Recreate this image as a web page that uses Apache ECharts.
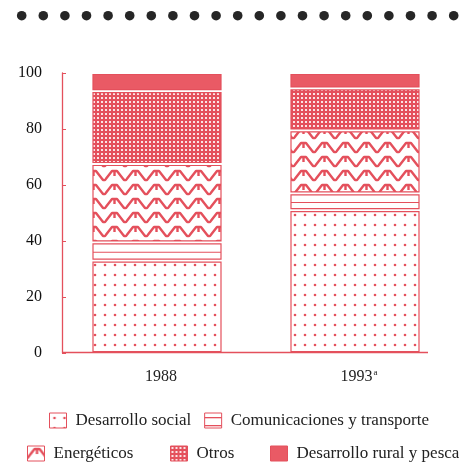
<!DOCTYPE html>
<html>
<head>
<meta charset="utf-8">
<script src="https://cdn.jsdelivr.net/npm/echarts@6/dist/echarts.min.js"></script>
<style>html,body{margin:0;padding:0;background:#fff;}#c{width:459px;height:466px;}</style>
</head>
<body>
<div id="c"></div>
<script>
// ---- data ----
const categories = ['1988', '1993'];
const seriesNames = ['Desarrollo social', 'Comunicaciones y transporte', 'Energéticos', 'Otros', 'Desarrollo rural y pesca'];
const desarrolloSocial = [33, 51];
const comunicaciones = [6.5, 6];
const energeticos = [28, 22.5];
const otros = [26, 15];
const desarrolloRural = [6.5, 5.5];
const yTicks = [0, 20, 40, 60, 80, 100];

// ---- styles ----
const RED = '#e4505c';
const FILL_RED = '#e95a65';
const SERIF = '"Liberation Serif", "DejaVu Serif", serif';

function makeCanvas(w, h, draw) {
  const c = document.createElement('canvas');
  c.width = w; c.height = h;
  const ctx = c.getContext('2d');
  ctx.fillStyle = '#fff';
  ctx.fillRect(0, 0, w, h);
  draw(ctx);
  return { image: c, repeat: 'repeat' };
}
const patDots = makeCanvas(10, 10, ctx => {
  ctx.fillStyle = RED;
  ctx.beginPath(); ctx.arc(5, 5, 1.3, 0, Math.PI * 2); ctx.fill();
});
const patStripes = makeCanvas(8, 8, ctx => {
  ctx.fillStyle = RED; ctx.fillRect(0, 4, 8, 1.3);
});
const patWave = makeCanvas(21, 14, ctx => {
  ctx.strokeStyle = RED; ctx.lineWidth = 2.4; ctx.lineJoin = 'round';
  ctx.beginPath();
  ctx.moveTo(-3, 12); ctx.lineTo(0, 12); ctx.lineTo(7, 3); ctx.lineTo(12, 3);
  ctx.lineTo(19, 12); ctx.lineTo(24, 12);
  ctx.stroke();
  ctx.beginPath(); ctx.moveTo(9.5, 3); ctx.lineTo(9.5, 8); ctx.stroke();
});
const patCheck = makeCanvas(4, 4, ctx => {
  ctx.fillStyle = RED;
  ctx.fillRect(0, 0, 4, 4);
  ctx.fillStyle = '#fbe3e5';
  ctx.fillRect(1, 1, 2, 2);
});
const fills = [patDots, patStripes, patWave, patCheck, FILL_RED];
const values = [desarrolloSocial, comunicaciones, energeticos, otros, desarrolloRural];

// cumulative stacking
const cum = categories.map(() => 0);
const series = seriesNames.map((name, si) => {
  const data = categories.map((c, ci) => {
    const s = cum[ci];
    const e = s + values[si][ci];
    cum[ci] = e;
    return [ci, s, e];
  });
  return {
    name: name,
    type: 'custom',
    itemStyle: { color: fills[si], borderColor: RED, borderWidth: 1 },
    encode: { x: 0, y: [1, 2] },
    data: data,
    renderItem: function (params, api) {
      const ci = api.value(0), s = api.value(1), e = api.value(2);
      const p0 = api.coord([ci, s]);
      const p1 = api.coord([ci, e]);
      const w = 128;
      const x = p0[0] - 4 - w / 2;
      const y = p1[1] + 1.5;
      const h = p0[1] - p1[1] - 3;
      const rect = {
        type: 'rect',
        shape: { x: x, y: y, width: w, height: h },
        style: { fill: si === 1 ? '#fff' : fills[si], stroke: RED, lineWidth: 1.2 }
      };
      if (si === 1) {
        return {
          type: 'group',
          children: [rect, {
            type: 'line',
            shape: { x1: x, y1: y + h * 0.55, x2: x + w, y2: y + h * 0.55 },
            style: { stroke: RED, lineWidth: 1.2 }
          }]
        };
      }
      return rect;
    }
  };
});

// decorative dot row
const dots = [];
for (let i = 0; i < 21; i++) {
  dots.push({ type: 'circle', shape: { cx: 21.7 + i * 21.6, cy: 15.7, r: 4.8 }, style: { fill: '#262626' } });
}

const legendText = { fontFamily: SERIF, fontSize: 17, color: '#222', padding: [0, 0, 0, 4] };
function legendFor(indices, left, top, gap) {
  return {
    data: indices.map(i => ({ name: seriesNames[i], itemStyle: { color: fills[i], borderColor: RED, borderWidth: 1 } })),
    left: left, top: top, width: 600, padding: 0, icon: 'rect', itemWidth: 17, itemHeight: 15, itemGap: gap,
    textStyle: legendText, selectedMode: false
  };
}
const chart = echarts.init(document.getElementById('c'), null, { renderer: 'canvas' });
chart.setOption({
  animation: false,
  backgroundColor: '#fff',
  grid: { left: 62, right: 1, top: 73, bottom: 113, containLabel: false },
  xAxis: {
    type: 'category',
    data: categories,
    axisLine: { show: false },
    axisTick: { show: false },
    axisLabel: {
      margin: 15,
      fontFamily: SERIF, fontSize: 16, color: '#222', lineHeight: 18,
      formatter: v => v === '1993' ? '1993{sup|a}' : v,
      rich: { sup: { fontFamily: SERIF, fontSize: 9, color: '#222', lineHeight: 18, verticalAlign: 'top', padding: [0, 0, 8, 1] } }
    }
  },
  yAxis: {
    type: 'value',
    min: 0, max: 100, interval: 20,
    axisLine: { show: true, lineStyle: { color: RED, width: 1.3 } },
    axisTick: { show: true, inside: true, length: 4, lineStyle: { color: RED } },
    splitLine: { show: false },
    axisLabel: {
      margin: 20,
      fontFamily: SERIF, fontSize: 16, color: '#111',
      padding: [0, 0, 10, 0],
      formatter: v => yTicks.includes(v) ? String(v) : ''
    }
  },
  legend: [
    legendFor([0, 1], 49, 412, 13),
    legendFor([2], 27, 445, 10),
    legendFor([3], 170, 445, 10),
    legendFor([4], 270, 445, 10)
  ],
  graphic: dots.concat([
    { type: 'line', shape: { x1: 62, y1: 352.5, x2: 428, y2: 352.5 }, style: { stroke: RED, lineWidth: 1.3 } }
  ]),
  series: series
});
</script>
</body>
</html>
